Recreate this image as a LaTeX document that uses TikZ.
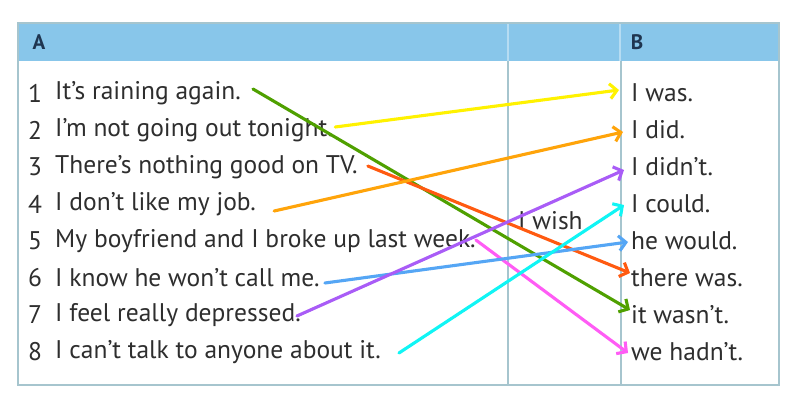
\documentclass[tikz,border=0pt]{standalone}
\usepackage{fontspec}
\setmainfont{PT Sans}
\usetikzlibrary{arrows.meta}

\definecolor{headblue}{HTML}{88C6EA}
\definecolor{headline}{HTML}{B6DCF2}
\definecolor{frameline}{HTML}{A6C5CE}
\definecolor{textgrey}{HTML}{2E2E2E}
\definecolor{letterblue}{HTML}{1F3550}
\definecolor{lgreen}{HTML}{4FA000}
\definecolor{lyellow}{HTML}{FFF200}
\definecolor{lred}{HTML}{FF5A10}
\definecolor{lorange}{HTML}{FFA40A}
\definecolor{lpink}{HTML}{FF5CF5}
\definecolor{lblue}{HTML}{55A6F5}
\definecolor{lpurple}{HTML}{A95CF7}
\definecolor{lcyan}{HTML}{10F5F5}

\tikzset{
  item/.style={anchor=west, inner sep=0pt, text=textgrey, font=\fontsize{25.5}{28}\selectfont},
  num/.style={anchor=center, inner sep=0pt, text=textgrey, font=\fontsize{25.5}{28}\selectfont},
  head/.style={anchor=center, inner sep=0pt, text=letterblue, font=\fontsize{21}{24}\selectfont\bfseries},
  link/.style={line width=3.1pt, line cap=round, line join=round,
    -{Straight Barb[length=7pt,width=15pt,line width=3.1pt]},
    preaction={draw=black, draw opacity=0.25, transform canvas={shift={(0.7pt,-0.7pt)}}}}
}

\begin{document}
\begin{tikzpicture}[x=1pt, y=-1pt]

\useasboundingbox (0,0) rectangle (797,408);
\fill[white] (0,0) rectangle (797,408);

% table frame and header band
\fill[headblue] (18,23) rectangle (779,61);
\draw[headline, line width=1.5pt] (508,23) -- (508,61);
\draw[headline, line width=1.5pt] (620,23) -- (620,61);
\draw[frameline, line width=2pt] (508,61) -- (508,385);
\draw[frameline, line width=2pt] (621,61) -- (621,385);
\draw[frameline, line width=1.5pt] (18,23) rectangle (779,385);

\node[head] (headA) at (39,42) {A};
\node[head] (headB) at (637,42) {B};

% column A
\node[num] (n1) at (35,93) {1};
\node[num] (n2) at (35,130) {2};
\node[num] (n3) at (35,167) {3};
\node[num] (n4) at (35,204) {4};
\node[num] (n5) at (35,241) {5};
\node[num] (n6) at (35,278) {6};
\node[num] (n7) at (35,315) {7};
\node[num] (n8) at (35,352) {8};

\node[item] (a1) at (55,93) {It's raining again.};
\node[item] (a2) at (55,130) {I'm not going out tonight.};
\node[item] (a3) at (55,167) {There's nothing good on TV.};
\node[item] (a4) at (55,204) {I don't like my job.};
\node[item] (a5) at (55,241) {My boyfriend and I broke up last week.};
\node[item] (a6) at (55,278) {I know he won't call me.};
\node[item] (a7) at (55,315) {I feel really depressed.};
\node[item] (a8) at (55,352) {I can't talk to anyone about it.};

% middle column
\node[item] (wish) at (518,221) {I wish};

% column B
\node[item] (b1) at (631,93) {I was.};
\node[item] (b2) at (631,130) {I did.};
\node[item] (b3) at (631,167) {I didn't.};
\node[item] (b4) at (631,204) {I could.};
\node[item] (b5) at (631,241) {he would.};
\node[item] (b6) at (631,278) {there was.};
\node[item] (b7) at (631,315) {it wasn't.};
\node[item] (b8) at (631,352) {we hadn't.};

% matching arrows
\draw[link, lgreen] ([xshift=12pt,yshift=4pt]a1.east) -- ([xshift=-1pt,yshift=5pt]b7.west);
\draw[link, lyellow] ([xshift=2pt,yshift=3pt]a2.east) -- ([xshift=-12pt,yshift=3pt]b1.west);
\draw[link, lred] ([xshift=10pt,yshift=1pt]a3.east) -- ([xshift=-1pt,yshift=5pt]b6.west);
\draw[link, lorange] ([xshift=18pt,yshift=-7pt]a4.east) -- ([xshift=-8pt,yshift=-2pt]b2.west);
\draw[link, lpink] ([xshift=0pt,yshift=1pt]a5.east) -- ([xshift=-3pt,yshift=-1pt]b8.west);
\draw[link, lblue] ([xshift=5pt,yshift=-5pt]a6.east) -- ([xshift=-3pt,yshift=-1pt]b5.west);
\draw[link, lpurple] ([xshift=-4pt,yshift=-1pt]a7.east) -- ([xshift=-7pt,yshift=-3pt]b3.west);
\draw[link, lcyan] ([xshift=18pt,yshift=-1pt]a8.east) -- ([xshift=-7pt,yshift=-1pt]b4.west);

\end{tikzpicture}
\end{document}
